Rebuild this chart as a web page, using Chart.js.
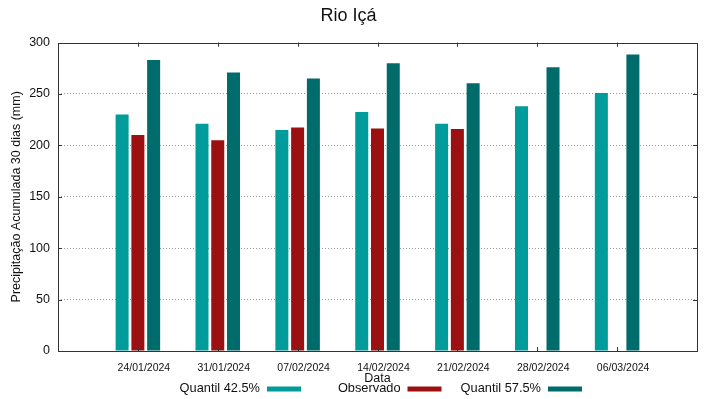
<!DOCTYPE html>
<html>
<head>
<meta charset="utf-8">
<script src="https://cdn.jsdelivr.net/npm/chart.js@4"></script>
<style>
html,body{margin:0;padding:0;background:#fff;}
#wrap{width:719px;height:399px;}
</style>
</head>
<body>
<div id="wrap"><canvas id="c" width="719" height="399"></canvas></div>
<script>
const dates = ['24/01/2024','31/01/2024','07/02/2024','14/02/2024','21/02/2024','28/02/2024','06/03/2024'];
const quantil425 = [230, 221, 215, 232.5, 221, 238, 251];
const observado = [210, 205, 217.5, 216.5, 216, null, null];
const quantil575 = [283, 271, 265, 280, 260.5, 276, 288.5];
const yTicks = [0, 50, 100, 150, 200, 250, 300];

const FONT = "'Liberation Sans', Arial, sans-serif";
const pad = arr => [null].concat(arr, [null]);
const labels = [''].concat(dates, ['']);

const frame = {
  id: 'frame',
  afterDraw(chart) {
    const ctx = chart.ctx, a = chart.chartArea, xs = chart.scales.x, ys = chart.scales.y;
    ctx.save();
    ctx.strokeStyle = '#333';
    ctx.lineWidth = 1;
    ctx.setLineDash([]);
    ctx.strokeRect(Math.round(a.left) + 0.5, Math.round(a.top) + 0.5,
      Math.round(a.right) - Math.round(a.left), Math.round(a.bottom) - Math.round(a.top));
    ctx.beginPath();
    labels.forEach((l, i) => {
      if (!l) return;
      const px = Math.round(xs.getPixelForTick(i)) + 0.5;
      ctx.moveTo(px, a.bottom); ctx.lineTo(px, a.bottom - 4);
      ctx.moveTo(px, a.top); ctx.lineTo(px, a.top + 4);
    });
    ys.ticks.forEach(t => {
      if (t.value === 0 || t.value === 300) return;
      const py = Math.round(ys.getPixelForValue(t.value)) + 0.5;
      ctx.moveTo(a.left, py); ctx.lineTo(a.left + 4, py);
      ctx.moveTo(a.right, py); ctx.lineTo(a.right - 4, py);
    });
    ctx.stroke();
    // legend (gnuplot style: text then swatch)
    ctx.font = '12.8px ' + FONT;
    ctx.textAlign = 'right';
    ctx.textBaseline = 'middle';
    chart.data.datasets.forEach((ds, i) => {
      const sx = 267 + i * 140.5;
      ctx.fillStyle = '#111';
      ctx.fillText(ds.label, sx - 7, 388);
      ctx.fillStyle = ds.backgroundColor;
      ctx.fillRect(sx, 386.5, 34, 5);
    });
    ctx.restore();
  }
};

new Chart(document.getElementById('c'), {
  type: 'bar',
  data: {
    labels: labels,
    datasets: [
      { label: 'Quantil 42.5%', data: pad(quantil425), backgroundColor: '#009b9b' },
      { label: 'Observado', data: pad(observado), backgroundColor: '#9b1010' },
      { label: 'Quantil 57.5%', data: pad(quantil575), backgroundColor: '#006b6b' }
    ]
  },
  options: {
    responsive: false,
    animation: false,
    devicePixelRatio: 1,
    categoryPercentage: 0.592,
    barPercentage: 0.825,
    layout: { padding: { left: 0, right: 22, top: 0, bottom: 0 } },
    plugins: {
      legend: { display: false },
      tooltip: { enabled: false },
      title: {
        display: true,
        text: 'Rio Içá',
        color: '#111',
        font: { family: FONT, size: 18, weight: 'normal' },
        padding: { top: 5, bottom: 16 }
      }
    },
    scales: {
      x: {
        type: 'category',
        offset: false,
        grid: { display: false, drawTicks: false },
        border: { display: false },
        ticks: {
          autoSkip: false, maxRotation: 0, minRotation: 0,
          padding: 11, labelOffset: 6,
          color: '#111',
          font: { family: FONT, size: 10.5 }
        },
        title: {
          display: true, text: 'Data', color: '#111',
          font: { family: FONT, size: 12.5 },
          padding: { top: 0, bottom: 13 }
        },
        afterFit(s) { s.height = 48; }
      },
      y: {
        min: 0, max: 300,
        afterBuildTicks(s) { s.ticks = yTicks.map(v => ({ value: v })); },
        grid: {
          drawTicks: false,
          color: c => (c.tick && (c.tick.value === 0 || c.tick.value === 300)) ? 'rgba(0,0,0,0)' : '#9a9a9a',
          lineWidth: 1
        },
        border: { display: false, dash: [1, 2] },
        ticks: {
          padding: 8, color: '#111',
          font: { family: FONT, size: 12.5 }
        },
        title: {
          display: true, text: 'Precipitação Acumulada 30 dias (mm)', color: '#111',
          font: { family: FONT, size: 12.5 },
          padding: { top: 9, bottom: 0 }
        },
        afterFit(s) { s.width = 58; }
      }
    }
  },
  plugins: [frame]
});
</script>
</body>
</html>
